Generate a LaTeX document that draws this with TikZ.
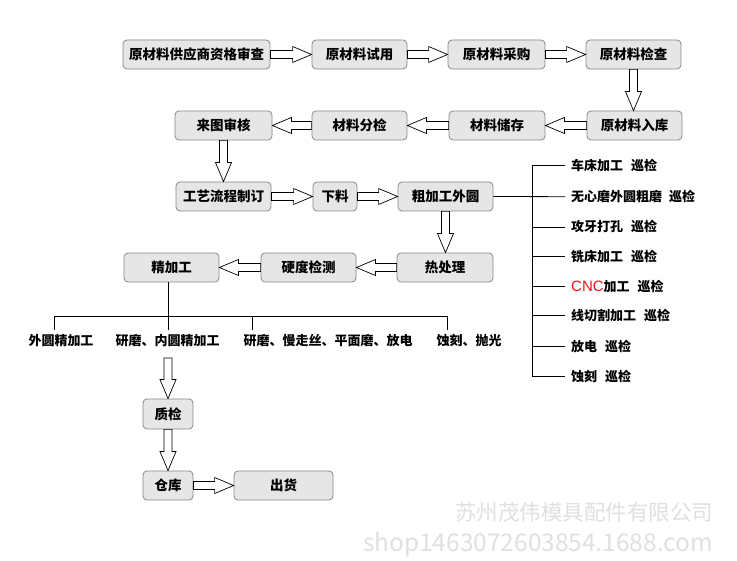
\documentclass[tikz,border=0pt]{standalone}
\usepackage{fontspec}
\setmainfont{Noto Sans CJK SC}
\newfontfamily\latinsans{Liberation Sans}
\usetikzlibrary{calc}
\definecolor{boxfill}{RGB}{230,230,230}
\definecolor{boxline}{RGB}{135,135,135}
\definecolor{wmark}{RGB}{224,224,224}
\definecolor{cncred}{RGB}{230,20,20}
\tikzset{
  box/.style={draw=boxline, fill=boxfill, line width=0.8pt, rounded corners=4pt,
    inner sep=0pt, minimum height=29pt, font=\fontsize{13.5}{14}\selectfont\bfseries},
  blockarr/.style={draw=black, fill=white, line width=0.7pt, line join=miter},
  branchlbl/.style={anchor=west, inner sep=0pt, font=\fontsize{13}{14}\selectfont\bfseries},
  botlbl/.style={inner sep=0pt, font=\fontsize{13}{14}\selectfont\bfseries},
  treeline/.style={draw=black, line width=0.8pt}
}
\newcommand\arrR[2]{\draw[blockarr] let \p1=(#1), \p2=(#2) in
  (\x1,\y1+4pt) -- (\x2-19pt,\y1+4pt) -- (\x2-19pt,\y1+8pt) -- (\x2,\y1) --
  (\x2-19pt,\y1-8pt) -- (\x2-19pt,\y1-4pt) -- (\x1,\y1-4pt) -- cycle;}
\newcommand\arrL[2]{\draw[blockarr] let \p1=(#1), \p2=(#2) in
  (\x1,\y1+4pt) -- (\x2+19pt,\y1+4pt) -- (\x2+19pt,\y1+8pt) -- (\x2,\y1) --
  (\x2+19pt,\y1-8pt) -- (\x2+19pt,\y1-4pt) -- (\x1,\y1-4pt) -- cycle;}
\newcommand\arrD[2]{\draw[blockarr] let \p1=(#1), \p2=(#2) in
  (\x1-4pt,\y1) -- (\x1-4pt,\y2+19pt) -- (\x1-8pt,\y2+19pt) -- (\x1,\y2) --
  (\x1+8pt,\y2+19pt) -- (\x1+4pt,\y2+19pt) -- (\x1+4pt,\y1) -- cycle;}
\begin{document}
\begin{tikzpicture}[x=1pt,y=-1pt]
\useasboundingbox[fill=white] (0,0) rectangle (737,561);

% row 1
\node[box, minimum width=147pt] (a1) at (196.5,54.5) {原材料供应商资格审查};
\node[box, minimum width=95pt]  (a2) at (359.5,54.5) {原材料试用};
\node[box, minimum width=97pt]  (a3) at (496.5,54.5) {原材料采购};
\node[box, minimum width=95pt]  (a4) at (633.5,54.5) {原材料检查};
% row 2
\node[box, minimum width=97pt]  (b1) at (223.5,125.5) {来图审核};
\node[box, minimum width=95pt]  (b2) at (359.5,125.5) {材料分检};
\node[box, minimum width=96pt]  (b3) at (497,125.5) {材料储存};
\node[box, minimum width=95pt]  (b4) at (634.5,125.5) {原材料入库};
% row 3
\node[box, minimum width=95pt]  (c1) at (223.5,196.5) {工艺流程制订};
\node[box, minimum width=44pt]  (c2) at (335,196.5) {下料};
\node[box, minimum width=95pt]  (c3) at (445.5,196.5) {粗加工外圆};
% row 4
\node[box, minimum width=95pt]  (d1) at (171.5,267.5) {精加工};
\node[box, minimum width=95pt]  (d2) at (308.5,267.5) {硬度检测};
\node[box, minimum width=96pt]  (d3) at (445,267.5) {热处理};
% lower column
\node[box, minimum width=50pt, minimum height=30pt] (g1) at (168,414) {质检};
\node[box, minimum width=50pt]  (g2) at (168,485.5) {仓库};
\node[box, minimum width=99pt]  (g3) at (283.5,485.5) {出货};

% block arrows
\arrR{a1.east}{a2.west}
\arrR{a2.east}{a3.west}
\arrR{a3.east}{a4.west}
\arrD{a4.south}{b4.north}
\arrL{b4.west}{b3.east}
\arrL{b3.west}{b2.east}
\arrL{b2.west}{b1.east}
\arrD{b1.south}{c1.north}
\arrR{c1.east}{c2.west}
\arrR{c2.east}{c3.west}
\arrD{c3.south}{d3.north}
\arrL{d3.west}{d2.east}
\arrL{d2.west}{d1.east}

% right branch labels
\node[branchlbl] (f1) at (571,165.7) {车床加工\hspace{8pt}巡检};
\node[branchlbl] (f2) at (571,196.7) {无心磨外圆粗磨\hspace{7pt}巡检};
\node[branchlbl] (f3) at (571,227) {攻牙打孔\hspace{8pt}巡检};
\node[branchlbl] (f4) at (571,256.7) {铣床加工\hspace{8pt}巡检};
\node[branchlbl] (f5) at (571,286.7) {{\latinsans\mdseries\fontsize{15}{16}\selectfont\color{cncred}CNC}加工\hspace{8pt}巡检};
\node[branchlbl] (f6) at (571,315.7) {线切割加工\hspace{8pt}巡检};
\node[branchlbl] (f7) at (571,346.7) {放电\hspace{8pt}巡检};
\node[branchlbl] (f8) at (571,376.7) {蚀刻\hspace{8pt}巡检};
\coordinate (vtop) at (532,165.7);
\coordinate (vbot) at (532,376.7);
\draw[treeline] (vtop) -- (vbot);
\draw[treeline] (c3.east) -- ($(f2.west)+(-6,0)$);
\foreach \i in {1,3,4,5,6,7,8}{
  \draw[treeline] (f\i.west -| vtop) -- ($(f\i.west)+(-6,0)$);
}

% bottom tree
\node[botlbl] (e1) at (61,341) {外圆精加工};
\node[botlbl] (e2) at (167.5,341) {研磨、内圆精加工};
\node[botlbl] (e3) at (328,341) {研磨、慢走丝、平面磨、放电};
\node[botlbl] (e4) at (469,341) {蚀刻、抛光};
\coordinate (t1) at (54,316);
\coordinate (t2) at (168,316);
\coordinate (t3) at (252,316);
\coordinate (t4) at (447,316);
\draw[treeline] (d1.south -| t2) -- (t2);
\draw[treeline] (t1) -- (t4);
\foreach \i in {1,2,3,4}{
  \draw[treeline] (t\i) -- ++(0,14);
}
\coordinate (e2arr) at (168,358);
\arrD{e2arr}{g1.north}
\arrD{g1.south}{g2.north}
\arrR{g2.east}{g3.west}

% watermark
\node[inner sep=0pt, text=wmark] (w1) at (584,512) {\resizebox{258pt}{!}{苏州茂伟模具配件有限公司}};
\node[inner sep=0pt, text=wmark] (w2) at (538,545) {\resizebox{350pt}{!}{shop1463072603854.1688.com}};
\end{tikzpicture}
\end{document}
